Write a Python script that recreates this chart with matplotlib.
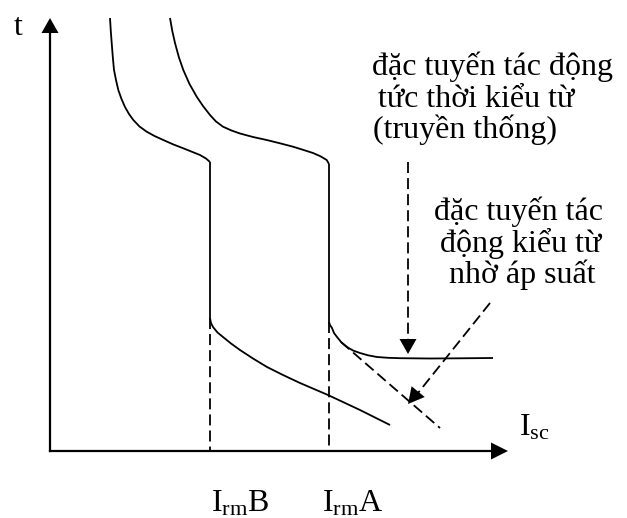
import matplotlib as mpl
mpl.use('Agg')
from matplotlib import pyplot as plt
from matplotlib.patches import Polygon
import numpy as np

plt.rcParams['font.family'] = ['Liberation Serif', 'DejaVu Serif']
plt.rcParams['mathtext.fontset'] = 'custom'
plt.rcParams['mathtext.rm'] = 'Liberation Serif'
plt.rcParams['mathtext.it'] = 'Liberation Serif:italic'

# drawing units: 1 unit = 1 px, y grows downwards
origin = (50, 451)
x_end = 508
y_end = 18

# breaker B: thermal curve, instantaneous drop, tail
b_top_x = [110, 110.8, 111.7, 112.8, 114, 116, 118.3, 121.5, 125, 129, 133.3,
           139.5, 146.7, 154.5, 163.3, 173, 183.3, 192, 200, 206, 210]
b_top_y = [18, 31, 43, 57, 70, 80, 90, 99, 107, 114, 120,
           126.5, 131.7, 136, 140, 144.3, 148.3, 151.8, 155, 158.5, 162]
b_trip = 210            # I_rm B
b_drop_end = 318
b_tail_x = [210, 211, 213, 217.5, 223, 231, 240, 253, 267, 283, 300, 314, 328, 344, 360, 375, 390]
b_tail_y = [318, 323, 327, 332.5, 337, 343.5, 350, 358.5, 367, 375, 383, 389, 395, 402.5, 410, 417.5, 425]

# breaker A
a_top_x = [170, 172.3, 175, 178.8, 183.3, 189.5, 196.7, 203, 210, 216, 223, 231,
           240, 253, 266.7, 280, 293, 303, 313, 320.5, 326.7, 329]
a_top_y = [18, 31, 43, 57, 70, 84, 96.7, 106, 115, 121.5, 126.7, 130.3,
           133.5, 137, 140, 143.3, 146.7, 149.8, 153, 156.3, 160, 164]
a_trip = 329            # I_rm A
a_drop_end = 322
# traditional instantaneous magnetic tail
a_tail_x = [329, 330, 332, 334, 337, 341.5, 347, 353, 360, 368, 377, 388, 400, 430, 460, 493]
a_tail_y = [322, 325, 328, 333, 337, 342.5, 347, 350.5, 353, 355.3, 357, 357.8, 358.2, 358.5, 358.3, 358]
# pressure assisted magnetic tail
a_press_x = [341, 410, 440]
a_press_y = [342, 402, 428]

lw = 1.3
dash = (0, (6.1, 2.8))

fig = plt.figure(figsize=(6.27, 5.18), dpi=100)
ax = fig.add_axes([0, 0, 1, 1])
ax.set_xlim(0, 627)
ax.set_ylim(518, 0)
ax.axis('off')


def head(ax, tip, direction, length=15, width=17):
    d = np.array(direction, dtype=float)
    d /= np.hypot(*d)
    n = np.array([-d[1], d[0]])
    tip = np.array(tip, dtype=float)
    base = tip - d * length
    pts = [tip, base + n * width / 2, base - n * width / 2]
    ax.add_patch(Polygon(pts, closed=True, color='black', lw=0))


# axes
ax.plot([origin[0], origin[0]], [origin[1], y_end + 10], color='black', lw=1.6)
ax.plot([origin[0], x_end - 10], [origin[1], origin[1]], color='black', lw=1.6)
head(ax, (origin[0], y_end), (0, -1), 15, 17)
head(ax, (x_end, origin[1]), (1, 0), 17, 17)

# curves
kw = dict(color='black', lw=lw, solid_joinstyle='round', solid_capstyle='butt')
ax.plot(b_top_x, b_top_y, **kw)
ax.plot([b_trip, b_trip], [b_top_y[-1], b_drop_end], **kw)
ax.plot(b_tail_x, b_tail_y, **kw)
ax.plot(a_top_x, a_top_y, **kw)
ax.plot([a_trip, a_trip], [a_top_y[-1], a_drop_end], **kw)
ax.plot(a_tail_x, a_tail_y, **kw)
ax.plot(a_press_x, a_press_y, color='black', lw=lw, linestyle=dash)

# projections onto the current axis
for xv, y0 in [(b_trip, b_drop_end), (a_trip, a_drop_end)]:
    ax.plot([xv, xv], [y0, origin[1]], color='black', lw=lw, linestyle=dash)

# pointer arrows
ax.plot([408, 408], [162, 340], color='black', lw=lw, linestyle=dash)
head(ax, (408, 354), (0, 1), 15, 17)
ax.plot([490, 418], [303, 393], color='black', lw=lw, linestyle=dash)
head(ax, (408, 404), (-82, 100), 16, 17)

fs = 23
ax.text(14, 35, 't', fontsize=23, ha='left', va='baseline')
ax.text(519, 436, r'$\mathrm{I_{sc}}$', fontsize=fs, ha='left', va='baseline')
ax.text(211, 512, r'$\mathrm{I_{rm}B}$', fontsize=fs, ha='left', va='baseline')
ax.text(322, 512, r'$\mathrm{I_{rm}A}$', fontsize=fs, ha='left', va='baseline')

ax.text(372, 75, 'đặc tuyến tác động', fontsize=fs, ha='left', va='baseline')
ax.text(378, 107, 'tức thời kiểu từ', fontsize=fs, ha='left', va='baseline')
ax.text(373, 138, '(truyền thống)', fontsize=fs, ha='left', va='baseline')

ax.text(519, 220, 'đặc tuyến tác', fontsize=fs, ha='center', va='baseline')
ax.text(521, 252, 'động kiểu từ', fontsize=fs, ha='center', va='baseline')
ax.text(522, 283, 'nhờ áp suất', fontsize=fs, ha='center', va='baseline')

fig.savefig('out.png', dpi=100)
